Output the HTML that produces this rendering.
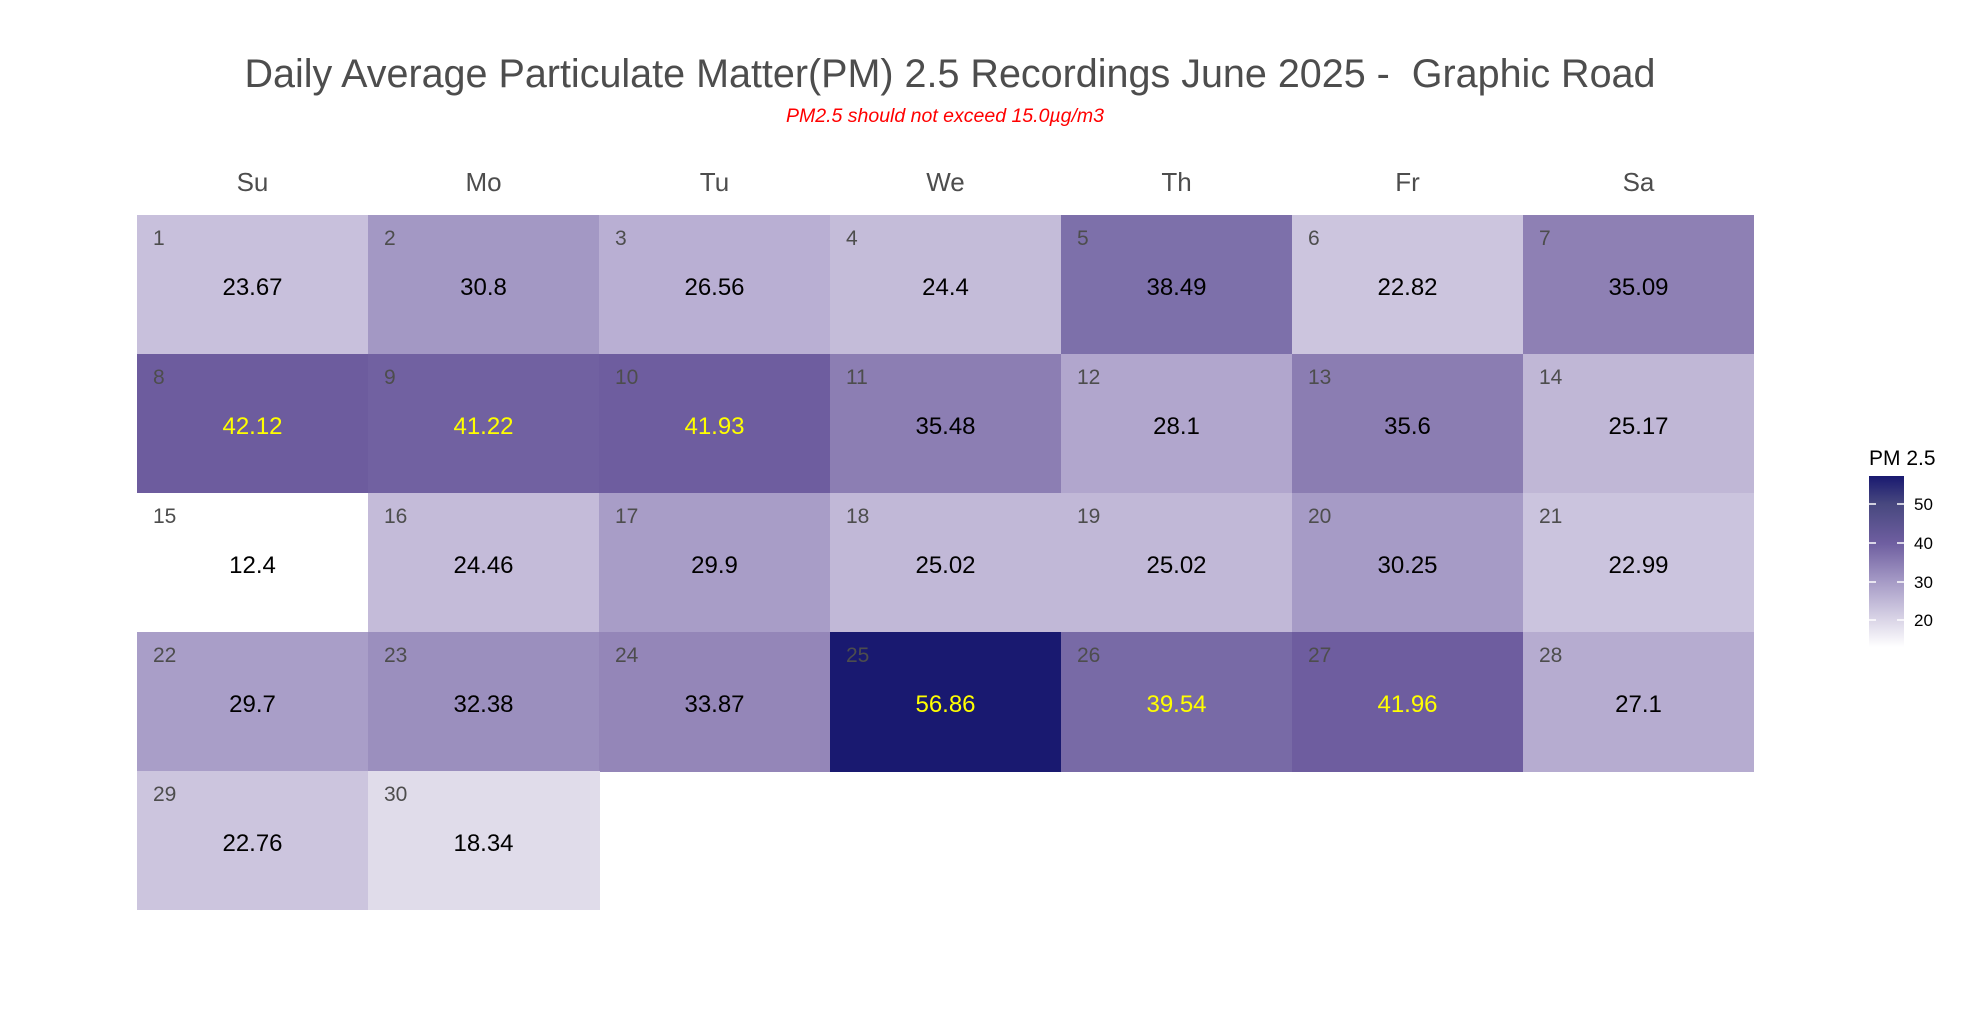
<!DOCTYPE html>
<html><head><meta charset="utf-8"><style>
html,body{margin:0;padding:0;background:#fff;}
svg{display:block;font-family:"Liberation Sans",Arial,sans-serif;}
</style></head><body>
<svg width="1978" height="1018" viewBox="0 0 1978 1018" xmlns="http://www.w3.org/2000/svg">
<defs>
<linearGradient id="lg" x1="0" y1="0" x2="0" y2="1">
<stop offset="0" stop-color="#191970"/>
<stop offset="0.164" stop-color="#48487f"/>
<stop offset="0.392" stop-color="#6e5ea0"/>
<stop offset="0.62" stop-color="#a69bc6"/>
<stop offset="0.842" stop-color="#dad5e7"/>
<stop offset="1" stop-color="#ffffff"/>
</linearGradient>
</defs>
<text x="950" y="87" font-size="39.5" fill="#4d4d4d" text-anchor="middle" xml:space="preserve">Daily Average Particulate Matter(PM) 2.5 Recordings June 2025 -  Graphic Road</text>
<text x="945" y="122" font-size="19.5" fill="#ff0000" font-style="italic" text-anchor="middle">PM2.5 should not exceed 15.0µg/m3</text>
<g font-size="26" fill="#4d4d4d" text-anchor="middle">
<text x="252.5" y="191">Su</text><text x="483.5" y="191">Mo</text><text x="714.5" y="191">Tu</text><text x="945.5" y="191">We</text><text x="1176.5" y="191">Th</text><text x="1407.5" y="191">Fr</text><text x="1638.5" y="191">Sa</text>
</g>
<g>
<rect x="137" y="215" width="232" height="140" fill="#c8c0dc"/>
<rect x="368" y="215" width="232" height="140" fill="#a398c4"/>
<rect x="599" y="215" width="232" height="140" fill="#b9afd3"/>
<rect x="830" y="215" width="232" height="140" fill="#c4bcd9"/>
<rect x="1061" y="215" width="232" height="140" fill="#7d70aa"/>
<rect x="1292" y="215" width="232" height="140" fill="#ccc5de"/>
<rect x="1523" y="215" width="231" height="140" fill="#8e80b4"/>
<rect x="137" y="354" width="232" height="140" fill="#6d5c9e"/>
<rect x="368" y="354" width="232" height="140" fill="#7161a1"/>
<rect x="599" y="354" width="232" height="140" fill="#6e5d9f"/>
<rect x="830" y="354" width="232" height="140" fill="#8c7eb3"/>
<rect x="1061" y="354" width="232" height="140" fill="#b1a6cd"/>
<rect x="1292" y="354" width="232" height="140" fill="#8b7db2"/>
<rect x="1523" y="354" width="231" height="140" fill="#c0b7d6"/>
<rect x="137" y="493" width="232" height="140" fill="#ffffff"/>
<rect x="368" y="493" width="232" height="140" fill="#c4bbd9"/>
<rect x="599" y="493" width="232" height="140" fill="#a89dc7"/>
<rect x="830" y="493" width="232" height="140" fill="#c1b8d7"/>
<rect x="1061" y="493" width="232" height="140" fill="#c1b8d7"/>
<rect x="1292" y="493" width="232" height="140" fill="#a69bc6"/>
<rect x="1523" y="493" width="231" height="140" fill="#cbc4de"/>
<rect x="137" y="632" width="232" height="140" fill="#a99ec8"/>
<rect x="368" y="632" width="232" height="140" fill="#9b8fbe"/>
<rect x="599" y="632" width="232" height="140" fill="#9486b8"/>
<rect x="830" y="632" width="232" height="140" fill="#191970"/>
<rect x="1061" y="632" width="232" height="140" fill="#786aa6"/>
<rect x="1292" y="632" width="232" height="140" fill="#6e5d9f"/>
<rect x="1523" y="632" width="231" height="140" fill="#b6acd0"/>
<rect x="137" y="771" width="232" height="139" fill="#ccc5de"/>
<rect x="368" y="771" width="232" height="139" fill="#e0dcea"/>
</g>
<g font-size="21" fill="#4d4d4d">
<text x="153" y="245">1</text><text x="384" y="245">2</text><text x="615" y="245">3</text><text x="846" y="245">4</text><text x="1077" y="245">5</text><text x="1308" y="245">6</text><text x="1539" y="245">7</text>
<text x="153" y="384">8</text><text x="384" y="384">9</text><text x="615" y="384">10</text><text x="846" y="384">11</text><text x="1077" y="384">12</text><text x="1308" y="384">13</text><text x="1539" y="384">14</text>
<text x="153" y="523">15</text><text x="384" y="523">16</text><text x="615" y="523">17</text><text x="846" y="523">18</text><text x="1077" y="523">19</text><text x="1308" y="523">20</text><text x="1539" y="523">21</text>
<text x="153" y="662">22</text><text x="384" y="662">23</text><text x="615" y="662">24</text><text x="846" y="662">25</text><text x="1077" y="662">26</text><text x="1308" y="662">27</text><text x="1539" y="662">28</text>
<text x="153" y="801">29</text><text x="384" y="801">30</text>
</g>
<g font-size="24" fill="#000" text-anchor="middle">
<text x="252.5" y="295">23.67</text><text x="483.5" y="295">30.8</text><text x="714.5" y="295">26.56</text><text x="945.5" y="295">24.4</text><text x="1176.5" y="295">38.49</text><text x="1407.5" y="295">22.82</text><text x="1638.5" y="295">35.09</text>
<text x="252.5" y="434" fill="#ffff00">42.12</text><text x="483.5" y="434" fill="#ffff00">41.22</text><text x="714.5" y="434" fill="#ffff00">41.93</text><text x="945.5" y="434">35.48</text><text x="1176.5" y="434">28.1</text><text x="1407.5" y="434">35.6</text><text x="1638.5" y="434">25.17</text>
<text x="252.5" y="573">12.4</text><text x="483.5" y="573">24.46</text><text x="714.5" y="573">29.9</text><text x="945.5" y="573">25.02</text><text x="1176.5" y="573">25.02</text><text x="1407.5" y="573">30.25</text><text x="1638.5" y="573">22.99</text>
<text x="252.5" y="712">29.7</text><text x="483.5" y="712">32.38</text><text x="714.5" y="712">33.87</text><text x="945.5" y="712" fill="#ffff00">56.86</text><text x="1176.5" y="712" fill="#ffff00">39.54</text><text x="1407.5" y="712" fill="#ffff00">41.96</text><text x="1638.5" y="712">27.1</text>
<text x="252.5" y="851">22.76</text><text x="483.5" y="851">18.34</text>
</g>
<text x="1869" y="465" font-size="21" fill="#000">PM 2.5</text>
<rect x="1869" y="476" width="35" height="171" fill="url(#lg)"/>
<g stroke="#fff" stroke-width="1.5">
<line x1="1869" y1="504" x2="1876" y2="504"/><line x1="1897" y1="504" x2="1904" y2="504"/>
<line x1="1869" y1="543" x2="1876" y2="543"/><line x1="1897" y1="543" x2="1904" y2="543"/>
<line x1="1869" y1="582" x2="1876" y2="582"/><line x1="1897" y1="582" x2="1904" y2="582"/>
<line x1="1869" y1="620" x2="1876" y2="620"/><line x1="1897" y1="620" x2="1904" y2="620"/>
</g>
<g font-size="17" fill="#000">
<text x="1914" y="510">50</text><text x="1914" y="549">40</text><text x="1914" y="588">30</text><text x="1914" y="626">20</text>
</g>
</svg>
</body></html>
